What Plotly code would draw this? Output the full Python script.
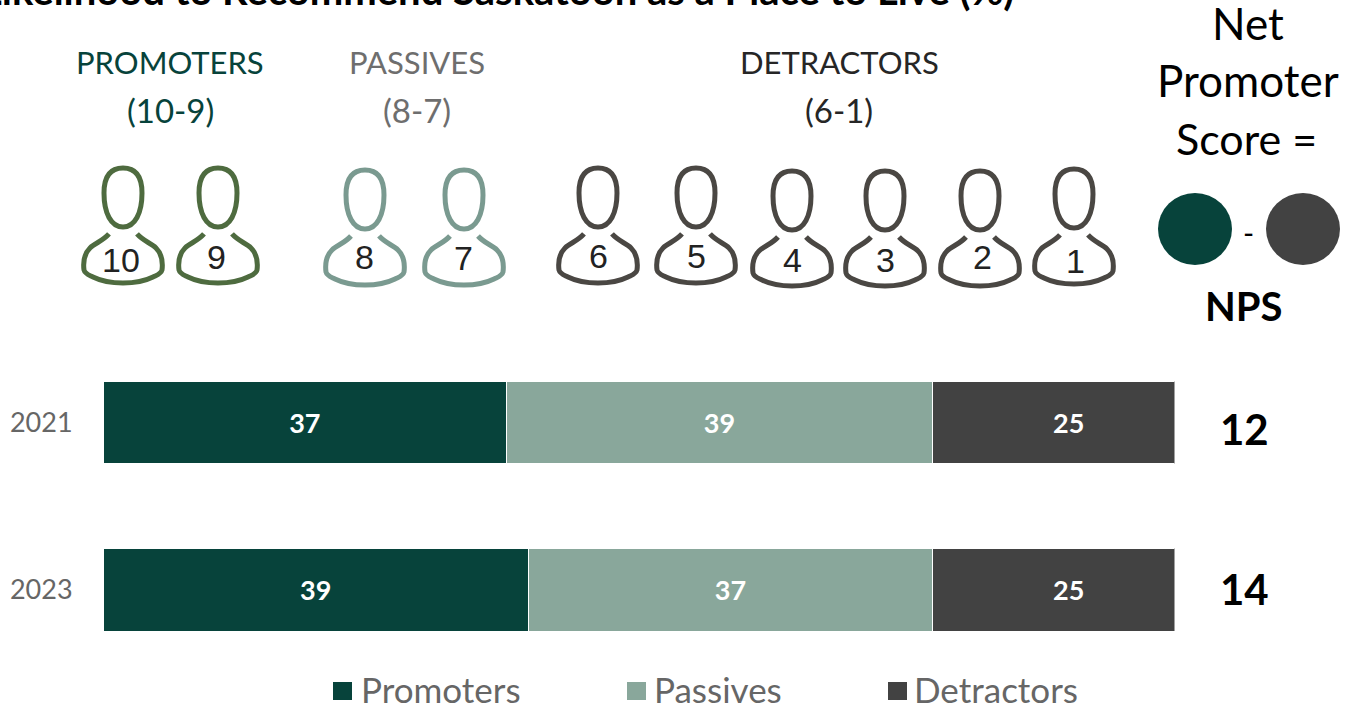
import plotly.graph_objects as go

W, H = 1352, 705

years = ["2021", "2023"]
series_names = ["Promoters", "Passives", "Detractors"]
promoters = [37, 39]
passives = [39, 37]
detractors = [25, 25]
nps_scores = [12, 14]

COL_PRO = "#07433B"
COL_PAS = "#89A79B"
COL_DET = "#424242"
FONT = "Lato"

def px(x):
    return x / W

def py(y):
    return 1 - y / H

fig = go.Figure()
for name, vals, col in [
    (series_names[0], promoters, COL_PRO),
    (series_names[1], passives, COL_PAS),
    (series_names[2], detractors, COL_DET),
]:
    fig.add_trace(go.Bar(
        name=name, y=years, x=vals, orientation="h", text=vals,
        textposition="inside", insidetextanchor="middle", textangle=0,
        textfont=dict(family=FONT, size=27, color="white", weight="bold"),
        marker=dict(color=col, line=dict(color="white", width=1.5)),
        showlegend=False,
    ))

ann = []
def text(x, y, s, size, color="#000000", bold=False, family=FONT):
    ann.append(dict(
        x=px(x), y=py(y), xref="paper", yref="paper", text=s, showarrow=False,
        xanchor="center", yanchor="middle",
        font=dict(family=family, size=size, color=color, weight="bold" if bold else "normal"),
    ))

# clipped heading at the top edge
text(497, -10, "Likelihood to Recommend Saskatoon as a Place to Live (%)", 40, "#000000", True)

# group headers
text(170, 62, "PROMOTERS", 31, COL_PRO)
text(170, 110, "(10-9)", 33, COL_PRO)
text(417, 62, "PASSIVES", 31, "#6E6E6E")
text(417, 110, "(8-7)", 33, "#6E6E6E")
text(840, 62, "DETRACTORS", 31, "#262626")
text(839, 110, "(6-1)", 33, "#262626")

# formula on the right
text(1248, 23, "Net", 44)
text(1248, 80, "Promoter", 44)
text(1246, 138, "Score =", 43)
text(1248, 232, "-", 30)
text(1244, 306, "NPS", 40, bold=True)

# NPS values
for yy, s in zip([429, 589], nps_scores):
    text(1244, yy, str(s), 42, bold=True)

shapes = []

def circle(cx, cy, rx, ry, col):
    shapes.append(dict(type="circle", xref="paper", yref="paper",
                       x0=px(cx - rx), x1=px(cx + rx), y0=py(cy + ry), y1=py(cy - ry),
                       fillcolor=col, line=dict(width=0)))

circle(1195, 229, 37, 36, COL_PRO)
circle(1303, 229, 37, 36, COL_DET)

def P(x, y):
    return f"{px(x):.5f},{py(y):.5f}"

def icon(cx, top, col):
    # head
    x0, x1 = cx - 19, cx + 19
    y0, y1 = top + 2, top + 61
    head = (f"M{P(cx, y0)} C{P(cx - 13, y0)} {P(x0, y0 + 9)} {P(x0, y0 + 25)} "
            f"C{P(x0, y0 + 45)} {P(cx - 12, y1)} {P(cx, y1)} "
            f"C{P(cx + 12, y1)} {P(x1, y0 + 45)} {P(x1, y0 + 25)} "
            f"C{P(x1, y0 + 9)} {P(cx + 13, y0)} {P(cx, y0)} Z")
    # shoulders, open at the neck
    b = top + 117
    s = top + 68
    body = (f"M{P(cx - 14, s)} C{P(cx - 20, s + 7)} {P(cx - 28, s + 9)} {P(cx - 33, s + 14)} "
            f"C{P(cx - 39, s + 20)} {P(cx - 40, s + 28)} {P(cx - 39, s + 36)} "
            f"C{P(cx - 38, s + 40)} {P(cx - 34, s + 41)} {P(cx - 30, s + 43)} "
            f"C{P(cx - 20, b - 1)} {P(cx - 10, b)} {P(cx, b)} "
            f"C{P(cx + 10, b)} {P(cx + 20, b - 1)} {P(cx + 30, s + 43)} "
            f"C{P(cx + 34, s + 41)} {P(cx + 38, s + 40)} {P(cx + 39, s + 36)} "
            f"C{P(cx + 40, s + 28)} {P(cx + 39, s + 20)} {P(cx + 33, s + 14)} "
            f"C{P(cx + 28, s + 9)} {P(cx + 20, s + 7)} {P(cx + 14, s)}")
    for d in (head, body):
        shapes.append(dict(type="path", xref="paper", yref="paper", path=d,
                           line=dict(color=col, width=5), layer="above"))

scores = ["10", "9", "8", "7", "6", "5", "4", "3", "2", "1"]
icon_x = [123, 218, 365, 464, 598, 696, 792, 885, 980, 1074]
icon_top = [166, 166, 168, 168, 166, 166, 169, 169, 169, 167]
num_x = [121, 216, 364, 463, 598, 696, 792, 885, 982, 1075]
num_y = [260, 257, 257, 258, 256, 256, 260, 260, 257, 261]
icon_col = ["#4E6B3F"] * 2 + ["#7A9A90"] * 2 + ["#4A4743"] * 6
for s, cx, top, nx, ny, col in zip(scores, icon_x, icon_top, num_x, num_y, icon_col):
    icon(cx, top, col)
    text(nx, ny, s, 34, "#222222", family="Liberation Sans")

# legend row
for name, col, sq, tx in zip(series_names, [COL_PRO, COL_PAS, COL_DET], [333, 627, 888], [441, 718, 996]):
    shapes.append(dict(type="rect", xref="paper", yref="paper",
                       x0=px(sq), x1=px(sq + 19), y0=py(700), y1=py(682),
                       fillcolor=col, line=dict(width=0)))
    text(tx, 689, name, 35, "#666666")

fig.update_layout(
    width=W, height=H, autosize=False,
    margin=dict(l=0, r=0, t=0, b=0),
    paper_bgcolor="white", plot_bgcolor="white",
    barmode="stack", bargap=0.505,
    xaxis=dict(domain=[px(103), px(1174.5)], range=[0, 98.2], visible=False, fixedrange=True),
    yaxis=dict(domain=[py(673.5), py(339)], autorange="reversed", type="category",
               showline=False, showgrid=False, zeroline=False,
               tickfont=dict(family=FONT, size=27, color="#666666"),
               ticks="outside", ticklen=24, tickcolor="rgba(0,0,0,0)"),
    annotations=ann, shapes=shapes,
)

fig.write_html("out.html", config={"displayModeBar": False},
               post_script="document.body.style.margin='0';document.body.style.overflow='hidden';")
